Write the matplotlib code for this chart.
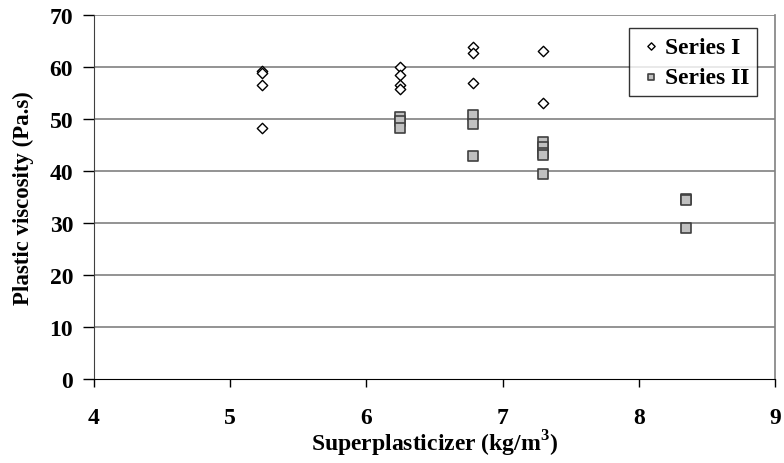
import matplotlib.pyplot as plt

# Series I (diamonds) and Series II (squares)
sp_1 = [5.23, 5.23, 5.23, 5.23,
        6.25, 6.25, 6.25, 6.25,
        6.78, 6.78, 6.78,
        7.30, 7.30]
visc_1 = [59.2, 58.8, 56.5, 48.2,
          59.9, 58.5, 56.4, 55.7,
          63.7, 62.6, 56.9,
          63.0, 53.0]

sp_2 = [6.25, 6.25, 6.25,
        6.78, 6.78, 6.78,
        7.30, 7.30, 7.30, 7.30, 7.30,
        8.35, 8.35, 8.35]
visc_2 = [50.3, 49.6, 48.2,
          50.7, 49.0, 42.8,
          45.6, 44.5, 43.5, 43.0, 39.3,
          34.6, 34.3, 29.0]

y_ticks = [0, 10, 20, 30, 40, 50, 60, 70]
x_ticks = [4, 5, 6, 7, 8, 9]

plt.rcParams["font.family"] = ["Liberation Serif", "DejaVu Serif"]
plt.rcParams["font.weight"] = "bold"
plt.rcParams["mathtext.fontset"] = "custom"
plt.rcParams["mathtext.bf"] = "Liberation Serif:bold"

fig = plt.figure(figsize=(7.84, 4.64), dpi=100)
ax = fig.add_axes([94 / 784, 1 - 380 / 464, (775 - 94) / 784, (380 - 15.7) / 464])

# horizontal grid lines
for v in y_ticks[1:]:
    ax.axhline(v, color="#808080", lw=1.2, zorder=1)

ax.scatter(sp_1, visc_1, marker="D", s=28, facecolor="white",
           edgecolor="black", linewidths=1.0, zorder=3, label="Series I")
ax.scatter(sp_2, visc_2, marker="s", s=48, facecolor="#c0c0c0",
           edgecolor="#404040", linewidths=1.2, zorder=3, label="Series II")

ax.set_xlim(4, 9)
ax.set_ylim(0, 70)
ax.set_xticks(x_ticks)
ax.set_yticks(y_ticks)

ax.spines["top"].set_visible(False)
ax.spines["right"].set_color("#808080")
ax.spines["right"].set_linewidth(1.2)
ax.spines["left"].set_color("#404040")
ax.spines["bottom"].set_color("black")

ax.tick_params(axis="x", direction="out", length=6, width=1, pad=14, labelsize=17)
ax.tick_params(axis="y", direction="out", length=8, width=1, pad=7, labelsize=17)
for lab in ax.get_xticklabels() + ax.get_yticklabels():
    lab.set_fontweight("bold")

ax.set_xlabel("Superplasticizer (kg/m$^\\mathbf{3}$)", fontsize=17,
              fontweight="bold", labelpad=0)
ax.set_ylabel("Plastic viscosity (Pa.s)", fontsize=16.5, fontweight="bold",
              labelpad=11)

leg = ax.legend(loc="upper right", bbox_to_anchor=(0.981, 0.977),
                frameon=True, fancybox=False, edgecolor="black",
                prop={"weight": "bold", "size": 17}, handletextpad=0.05,
                handlelength=1.1, borderpad=0.35, labelspacing=0.38,
                borderaxespad=0.2, markerscale=0.7)
leg.get_frame().set_linewidth(1.0)

fig.savefig("out.png", dpi=100)
